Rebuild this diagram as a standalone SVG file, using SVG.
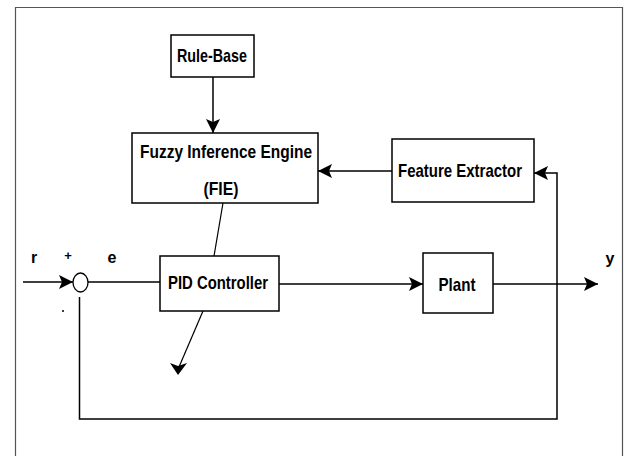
<svg xmlns="http://www.w3.org/2000/svg" width="632" height="456" viewBox="0 0 632 456">
<style>
.box{fill:#fff;stroke:#000;stroke-width:1.5}
.ln{fill:none;stroke:#000;stroke-width:1.5}
.lbl{font-family:"Liberation Sans",Arial,sans-serif;font-weight:bold;font-size:19px;fill:#000;text-anchor:middle}
.sym{font-family:"Liberation Sans",Arial,sans-serif;font-weight:bold;font-size:16px;fill:#000;text-anchor:middle}
</style>
<defs>
<marker id="ah" markerUnits="userSpaceOnUse" markerWidth="15" markerHeight="14" refX="14" refY="7" orient="auto">
<path d="M0,0 L14,7 L0,14 L3,7 z" fill="#000"/>
</marker>
</defs>
<rect width="632" height="456" fill="#fff"/>
<path d="M15.5,470 V7.5 H622.5 V470" fill="none" stroke="#555" stroke-width="1.2"/>
<g id="connectors">
<line class="ln" x1="213" y1="77" x2="213" y2="133" marker-end="url(#ah)"/>
<line class="ln" x1="392" y1="171" x2="318" y2="171" marker-end="url(#ah)"/>
<path class="ln" d="M79.5,297 V419 H557 V173 H534" marker-end="url(#ah)"/>
<line class="ln" x1="23" y1="282" x2="73" y2="282" marker-end="url(#ah)"/>
<line class="ln" x1="88" y1="282" x2="160" y2="282"/>
<line class="ln" x1="279" y1="284" x2="423" y2="284" marker-end="url(#ah)"/>
<line class="ln" x1="493" y1="284" x2="598" y2="284" marker-end="url(#ah)"/>
<line class="ln" x1="223" y1="203" x2="214" y2="256" style="stroke-width:1.2"/>
<line class="ln" x1="203" y1="311" x2="179" y2="367" style="stroke-width:1.2"/>
<path d="M170,363 L178,375 L187,363 L178,366 z" fill="#000"/>
</g>
<g id="rule-base">
<rect class="box" x="171" y="35" width="83" height="42"/>
<text class="lbl" x="212" y="62" textLength="70" lengthAdjust="spacingAndGlyphs">Rule-Base</text>
</g>
<g id="fie">
<rect class="box" x="132" y="133" width="186" height="70"/>
<text class="lbl" x="226" y="158" textLength="172" lengthAdjust="spacingAndGlyphs">Fuzzy Inference Engine</text>
<text class="lbl" x="221" y="195" textLength="35" lengthAdjust="spacingAndGlyphs">(FIE)</text>
</g>
<g id="feature-extractor">
<rect class="box" x="392" y="139" width="142" height="63"/>
<text class="lbl" x="460" y="177" textLength="124" lengthAdjust="spacingAndGlyphs">Feature Extractor</text>
</g>
<g id="summing-junction">
<ellipse cx="80.5" cy="282.5" rx="7.5" ry="9.5" fill="#fff" stroke="#000" stroke-width="1.3"/>
<text class="sym" x="68" y="260" style="font-size:13px">+</text>
<circle cx="63" cy="311" r="1" fill="#000"/>
</g>
<g id="pid-controller">
<rect class="box" x="160" y="256" width="119" height="55"/>
<text class="lbl" x="218" y="289" textLength="100" lengthAdjust="spacingAndGlyphs">PID Controller</text>
</g>
<g id="plant">
<rect class="box" x="423" y="253" width="70" height="60"/>
<text class="lbl" x="457" y="291" textLength="37" lengthAdjust="spacingAndGlyphs">Plant</text>
</g>
<g id="labels">
<text class="sym" x="34" y="263">r</text>
<text class="sym" x="112" y="263">e</text>
<text class="sym" x="610" y="264">y</text>
</g>
</svg>
